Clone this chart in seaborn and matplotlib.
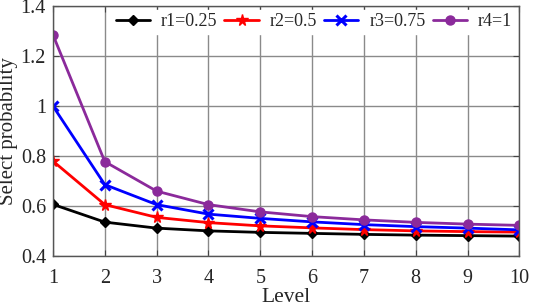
import numpy as np
import pandas as pd
import seaborn as sns
import matplotlib
matplotlib.use('Agg')
import matplotlib.pyplot as plt

levels = [1, 2, 3, 4, 5, 6, 7, 8, 9, 10]
r1 = [0.607, 0.536, 0.512, 0.501, 0.495, 0.491, 0.487, 0.484, 0.482, 0.480]
r2 = [0.780, 0.606, 0.555, 0.534, 0.521, 0.513, 0.506, 0.501, 0.498, 0.496]
r3 = [1.000, 0.686, 0.606, 0.568, 0.551, 0.537, 0.526, 0.518, 0.512, 0.505]
r4 = [1.285, 0.778, 0.660, 0.606, 0.577, 0.558, 0.545, 0.535, 0.528, 0.523]
series_names = ['r1=0.25', 'r2=0.5', 'r3=0.75', 'r4=1']

df = pd.DataFrame({'Level': levels * 4,
                   'value': r1 + r2 + r3 + r4,
                   'series': np.repeat(series_names, len(levels))})

sns.set_style('ticks')
plt.rcParams['font.family'] = ['Liberation Serif', 'DejaVu Serif']

fig = plt.figure(figsize=(5.33, 3.06), dpi=100)
ax = fig.add_axes([0.0994, 0.163, 0.875, 0.817])

palette = {'r1=0.25': 'black', 'r2=0.5': 'red', 'r3=0.75': 'blue', 'r4=1': '#8B2A9B'}
markers = {'r1=0.25': 'D', 'r2=0.5': '*', 'r3=0.75': 'x', 'r4=1': 'o'}
sizes = {'r1=0.25': 5.5, 'r2=0.5': 8.5, 'r3=0.75': 7, 'r4=1': 6.5}

for name in series_names:
    sub = df[df['series'] == name]
    sns.lineplot(data=sub, x='Level', y='value', ax=ax, color=palette[name],
                 marker=markers[name], markersize=sizes[name], linewidth=2,
                 markeredgecolor=palette[name],
                 markeredgewidth=2.2 if name == 'r3=0.75' else 1,
                 label=name)

ax.set_xlim(1, 10)
ax.set_ylim(0.4, 1.4)
ax.set_xticks(levels)
ax.set_yticks([0.4, 0.6, 0.8, 1.0, 1.2, 1.4])
ax.set_yticklabels(['0.4', '0.6', '0.8', '1', '1.2', '1.4'])
ax.grid(True, color='#8a8a8a', linewidth=1)
ax.tick_params(direction='in', labelsize=14.5, length=4, color='#444444',
               top=True, right=True, pad=5)
ax.tick_params(axis='x', pad=9)
for s in ax.spines.values():
    s.set_color('#555555')
    s.set_linewidth(1)
ax.set_xlabel('Level', fontsize=15.5, labelpad=0)
ax.set_ylabel('Select probability', fontsize=15, labelpad=2)

leg = ax.legend(loc='upper right', ncol=4, frameon=True, fontsize=13,
                handlelength=1.9, columnspacing=0.4, handletextpad=0.6,
                borderaxespad=0.2, borderpad=0.2, fancybox=False,
                edgecolor='white', framealpha=1)

fig.savefig('out.png', dpi=100)
